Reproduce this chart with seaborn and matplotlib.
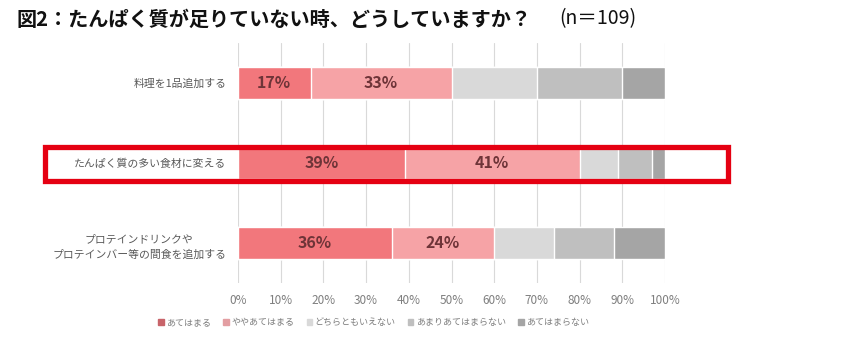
import matplotlib
matplotlib.use("Agg")
import matplotlib.pyplot as plt
import seaborn as sns
import pandas as pd
import numpy as np
from matplotlib.patches import Rectangle
from matplotlib.ticker import FuncFormatter

categories = ["料理を1品追加する", "たんぱく質の多い食材に変える", "プロテインドリンクや\nプロテインバー等の間食を追加する"]
responses = ["あてはまる", "ややあてはまる", "どちらともいえない", "あまりあてはまらない", "あてはまらない"]
v_atehamaru = [17, 39, 36]
v_yaya = [33, 41, 24]
v_dochira = [20, 9, 14]
v_amari = [20, 8, 14]
v_atehamaranai = [10, 3, 12]
colors = ["#F2777C", "#F6A3A6", "#D9D9D9", "#BFBFBF", "#A5A5A5"]
legend_colors = ["#C8646A", "#E39EA2", "#D9D9D9", "#BFBFBF", "#A5A5A5"]
title = "図2：たんぱく質が足りていない時、どうしていますか？"
n_label = "(n＝109)"

sns.set_theme(style="white")
plt.rcParams['font.family'] = ['Noto Sans CJK JP', 'DejaVu Sans']

W, H = 842, 337
fig = plt.figure(figsize=(W / 100, H / 100), dpi=100)
ax = fig.add_axes([238 / W, (H - 283) / H, (665 - 238) / W, (283 - 43) / H])

series = [v_atehamaru, v_yaya, v_dochira, v_amari, v_atehamaranai]
df = pd.DataFrame({r: s for r, s in zip(responses, series)}, index=categories)
cum = df.cumsum(axis=1)

for i in range(len(responses) - 1, -1, -1):
    d = pd.DataFrame({"cat": categories, "val": cum[responses[i]].values})
    sns.barplot(data=d, x="val", y="cat", orient="h", color=colors[i],
                width=0.4, saturation=1, ax=ax, zorder=2)

ax.set_xlim(0, 100)
ax.set_ylim(2.5, -0.5)
ax.set_xticks(np.arange(0, 101, 10))
ax.xaxis.set_major_formatter(FuncFormatter(lambda v, p: f"{int(v)}%"))
ax.grid(axis="x", color="#D9D9D9", linewidth=0.8, zorder=0)
ax.set_axisbelow(True)
for s in ax.spines.values():
    s.set_visible(False)
ax.set_xlabel("")
ax.set_ylabel("")
ax.tick_params(axis="x", length=0, pad=8, labelsize=8.5, labelcolor="#7F7F7F")
ax.tick_params(axis="y", length=0, pad=8.5, labelsize=7.8, labelcolor="#595959")
for lab in ax.get_yticklabels():
    lab.set_multialignment("center")
    lab.set_linespacing(1.7)

# percent labels on first two segments
for j, cat in enumerate(categories):
    start = 0
    for k in range(2):
        v = series[k][j]
        ax.text(start + v / 2, j, f"{v}%", ha="center", va="center",
                fontsize=11.5, fontweight="bold", color="#6E3438", zorder=5)
        start += v

# legend
handles = [Rectangle((0, 0), 1, 1, color=c) for c in legend_colors]
fig.legend(handles, responses, loc="center left", bbox_to_anchor=(150 / W, 1 - 323 / H),
           ncol=5, frameon=False, fontsize=6.5, labelcolor="#7F7F7F",
           handlelength=0.6, handleheight=0.6, handletextpad=0.3, columnspacing=1.35)

# highlight rectangle
rect = Rectangle((44.5 / W, 1 - 180.5 / H), (727.5 - 44.5) / W, (180.5 - 146.5) / H,
                 transform=fig.transFigure, fill=False, edgecolor="#E50012",
                 linewidth=3.8, zorder=10)
fig.patches.append(rect)

# title
fig.text(16 / W, 1 - 19 / H, title, ha="left", va="center", fontsize=14.5,
         fontweight="bold", color="#111111")
fig.text(559 / W, 1 - 19 / H, n_label, ha="left", va="center", fontsize=14,
         color="#111111")

fig.savefig("out.png", dpi=100, facecolor="white")
